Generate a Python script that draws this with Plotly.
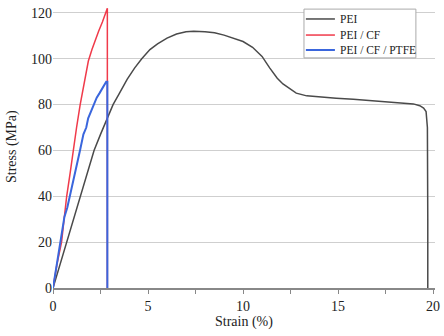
import plotly.graph_objects as go

# PEI
pei_strain = [0, 0.4, 0.74, 1.1, 1.44, 1.8, 2.16, 2.5, 2.86, 3.16, 3.5, 3.9, 4.3, 4.67, 5.1, 5.5, 6.0, 6.5, 7.0, 7.4, 8.0, 8.5, 9.0, 9.5, 10.0, 10.5, 11.0, 11.4, 11.8, 12.1, 12.5, 12.8, 13.35, 14.0, 14.9, 15.8, 16.7, 17.7, 18.5, 18.96, 19.3, 19.5, 19.63, 19.7, 19.72, 19.72]
pei_stress = [0, 11, 20, 30, 40, 50, 60, 67, 74, 80, 85, 91, 96, 100, 104, 106.5, 109, 110.8, 111.8, 112, 111.8, 111.3, 110.3, 109, 107.5, 105, 101, 96, 91.5, 89, 86.5, 85, 83.8, 83.3, 82.8, 82.3, 81.8, 81.3, 80.8, 80.3, 79.5, 78.5, 77, 70, 30, 0]

# PEI / CF
cf_strain = [0, 0.2, 0.45, 0.72, 0.9, 1.06, 1.24, 1.43, 1.64, 1.86, 2.05, 2.2, 2.24, 2.4, 2.6, 2.75, 2.86, 2.86]
cf_stress = [0, 10, 20, 40, 50, 60, 70, 80, 90, 99, 104, 107.5, 109, 112, 116, 119, 122, 0]

# PEI / CF / PTFE
ptfe_strain = [0, 0.2, 0.37, 0.5, 0.6, 0.75, 0.89, 1.05, 1.2, 1.3, 1.42, 1.6, 1.75, 1.85, 2.0, 2.12, 2.3, 2.45, 2.6, 2.7, 2.8, 2.86, 2.86]
ptfe_stress = [0, 10, 20, 25, 31, 35, 40, 46, 52, 55, 60, 67, 70, 74, 77, 80, 83, 85, 87, 88.5, 90, 90, 0]

series_names = ["PEI", "PEI / CF", "PEI / CF / PTFE"]
series_colors = ["#4a4a4a", "#f03a4a", "#3a66dd"]
series_widths = [1.5, 1.5, 2]

x_ticks = [0, 5, 10, 15, 20]
x_minor = [2.5, 7.5, 12.5, 17.5]
y_ticks = [0, 20, 40, 60, 80, 100, 120]

fig = go.Figure()
for xs, ys, nm, col, w in zip([pei_strain, cf_strain, ptfe_strain],
                              [pei_stress, cf_stress, ptfe_stress],
                              series_names, series_colors, series_widths):
    fig.add_trace(go.Scatter(x=xs, y=ys, mode="lines", name=nm,
                             line=dict(color=col, width=w), showlegend=False))

serif = "Liberation Serif, DejaVu Serif, serif"

# legend drawn as shapes + annotations (compact spacing like the reference)
shapes = [dict(type="rect", xref="paper", yref="paper", x0=0.657, x1=0.950, y0=0.816, y1=0.989,
               fillcolor="white", line=dict(color="#aaaaaa", width=1), layer="above")]
annotations = []
leg_y = [0.954, 0.897, 0.844]
for nm, col, w, yy in zip(series_names, series_colors, series_widths, leg_y):
    shapes.append(dict(type="line", xref="paper", yref="paper", x0=0.662, x1=0.738, y0=yy, y1=yy,
                       line=dict(color=col, width=w), layer="above"))
    annotations.append(dict(text=nm, xref="paper", yref="paper", x=0.746, y=yy,
                            xanchor="left", yanchor="middle", showarrow=False,
                            font=dict(family=serif, size=11.5, color="#222")))

annotations += [
    dict(text="Strain (%)", xref="paper", yref="paper", x=0.5, y=0,
         yshift=-34, xanchor="center", yanchor="middle", showarrow=False,
         font=dict(family=serif, size=14, color="#222")),
    dict(text="Stress (MPa)", xref="paper", yref="paper", x=0, y=0.5,
         xshift=-41, textangle=-90, xanchor="center", yanchor="middle", showarrow=False,
         font=dict(family=serif, size=14, color="#222")),
]

fig.update_layout(
    width=444, height=336,
    margin=dict(l=53, r=9, t=6, b=48, autoexpand=False),
    paper_bgcolor="white", plot_bgcolor="white",
    font=dict(family=serif, size=14, color="#222"),
    showlegend=False,
    xaxis=dict(range=[0, 20.1], tickvals=x_ticks,
               showgrid=False, zeroline=False, automargin=False,
               showline=True, linecolor="#888", linewidth=1.5,
               ticks="outside", ticklen=4, tickcolor="#888",
               minor=dict(tickvals=x_minor, ticks="outside", ticklen=4, tickcolor="#888"),
               tickfont=dict(family=serif, size=14)),
    yaxis=dict(range=[0, 123], tickvals=y_ticks,
               showgrid=True, gridcolor="#cfcfcf", gridwidth=1, automargin=False,
               zeroline=False, showline=False, ticks="",
               tickfont=dict(family=serif, size=14)),
    shapes=shapes,
    annotations=annotations,
)

fig.write_html("out.html", config={"displayModeBar": False},
               post_script="document.body.style.margin='0';")
